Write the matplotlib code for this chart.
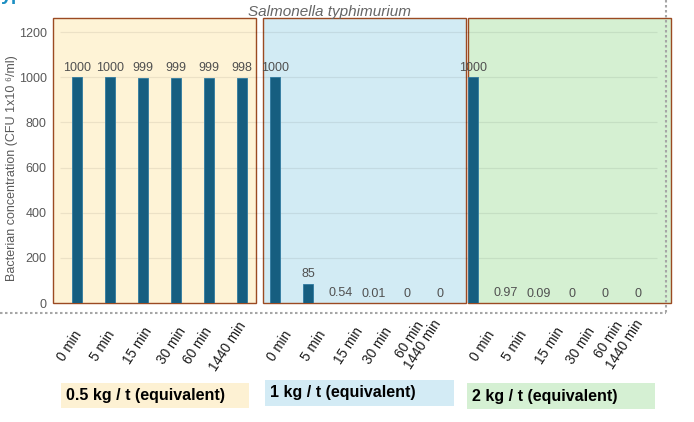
import matplotlib.pyplot as plt
from matplotlib.patches import Rectangle
from matplotlib.lines import Line2D

plt.rcParams['font.family'] = ['Liberation Sans', 'DejaVu Sans']

# data
times = ['0 min', '5 min', '15 min', '30 min', '60 min', '1440 min']
doses = ['0.5 kg / t (equivalent)', '1 kg / t (equivalent)', '2 kg / t (equivalent)']
conc_05 = [1000, 1000, 999, 999, 999, 998]
conc_1 = [1000, 85, 0.54, 0.01, 0, 0]
conc_2 = [1000, 0.97, 0.09, 0, 0, 0]
y_ticks = [0, 200, 400, 600, 800, 1000, 1200]

# layout (pixels of the 694x422 picture)
W, H = 694, 422
slot_px, first_bar_px = 33, 77
panel_px = [(53, 256), (263, 466), (468, 671)]
panel_colors = ['#fef3d6', '#d2ebf4', '#d5f0d2']
box_px = [(61, 383, 249, 408), (265, 380, 454, 406), (467, 383, 655, 409)]
box_colors = ['#fdf1d3', '#d3ebf5', '#d5f0d3']
tick_x_px = [69.5, 103, 138, 171.5, 198, 227.5,
             279.5, 314, 349, 378, 410, 422.5,
             482.5, 515, 550, 581, 609, 625]
tick_y_px = [346, 346, 346, 346, 346, 346,
             346, 346, 346, 346, 340, 344,
             346, 346, 346, 346, 340, 344]


def fx(px):
    return px / W


def fy(py):
    return 1 - py / H


def to_data(px):
    return (px - first_bar_px) / slot_px


fig = plt.figure(figsize=(W / 100, H / 100), dpi=100)
ymax = 1263
xl, xr = -0.75, 18.03
ax_left = first_bar_px + xl * slot_px
ax_right = first_bar_px + xr * slot_px
ax = fig.add_axes([fx(ax_left), fy(303), (ax_right - ax_left) / W, (303 - 18) / H])
ax.set_xlim(xl, xr)
ax.set_ylim(0, ymax)

for (p0, p1), c in zip(panel_px, panel_colors):
    ax.add_patch(Rectangle((to_data(p0), 0), to_data(p1) - to_data(p0), ymax,
                           facecolor=c, edgecolor='#9b4a22', linewidth=1,
                           zorder=0, clip_on=False))

ax.hlines(y_ticks[1:], -0.52, 17.58, colors='k', alpha=0.07, linewidth=0.9, zorder=1)

groups = [conc_05, conc_1, conc_2]
for g, vals in enumerate(groups):
    xs = [g * len(times) + i for i in range(len(times))]
    ax.bar(xs, vals, width=0.3, color='#165e80', edgecolor='#2f7aa0',
           linewidth=0.6, zorder=2)
    for x, v in zip(xs, vals):
        ax.annotate(f'{v:g}', (x, v), xytext=(0, 2.5), textcoords='offset points',
                    ha='center', va='bottom', fontsize=9, color='#505050', zorder=3)

ax.set_yticks(y_ticks)
ax.set_xticks([])
ax.tick_params(axis='y', length=0, pad=4, labelsize=9, labelcolor='#595959')
for s in ax.spines.values():
    s.set_visible(False)

fig.text(fx(12), fy(168), 'Bacterian concentration (CFU 1x10 \u2076/ml)',
         rotation=90, ha='center', va='center', fontsize=9, color='#595959')
fig.text(fx(330), fy(12), 'Salmonella typhimurium', style='italic',
         ha='center', va='center', fontsize=11, color='#666666')
fig.text(fx(1), 1.0, 'yp', va='baseline', ha='left', fontsize=14,
         fontweight='bold', color='#1b8ec2')

labels = times * len(doses)
for lab, x, y in zip(labels, tick_x_px, tick_y_px):
    fig.text(fx(x), fy(y), lab, rotation=57, ha='center', va='center',
             fontsize=9.8, color='#1a1a1a')

for (x0, y0, x1, y1), c, d in zip(box_px, box_colors, doses):
    fig.add_artist(Rectangle((fx(x0), fy(y1)), fx(x1) - fx(x0), fy(y0) - fy(y1),
                             transform=fig.transFigure, facecolor=c, edgecolor='none'))
    fig.text(fx(x0 + 5), fy((y0 + y1) / 2), d, ha='left', va='center',
             fontsize=11.5, fontweight='bold', color='black')

dot = dict(color='#a6a6a6', linewidth=1.5, linestyle=(0, (1.2, 1.2)))
fig.add_artist(Line2D([0, fx(666)], [fy(313), fy(313)], transform=fig.transFigure, **dot))
fig.add_artist(Line2D([fx(666), fx(666)], [1, fy(313)], transform=fig.transFigure, **dot))

fig.savefig('out.png', dpi=100)
